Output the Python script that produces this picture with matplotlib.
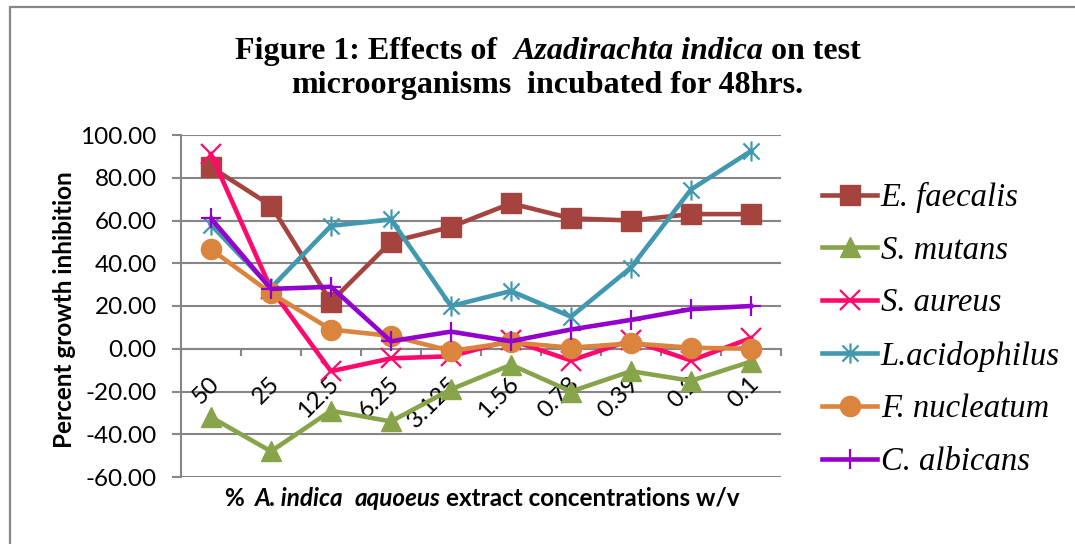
import matplotlib

matplotlib.use("Agg")
import matplotlib.pyplot as plt
from matplotlib.path import Path
from matplotlib.patches import Rectangle
import numpy as np

# data
concentrations = ["50", "25", "12.5", "6.25", "3.125", "1.56", "0.78", "0.39", "0.2", "0.1"]
e_faecalis = [85, 67, 22, 50, 57, 68, 61, 60, 63, 63]
s_mutans = [-32, -48, -29, -34, -19, -7.5, -20, -10.5, -15, -6]
s_aureus = [91, 28, -10.5, -4.5, -3.5, 4, -5.5, 4, -5.5, 5]
l_acidophilus = [58, 28.5, 57.5, 60.5, 20, 27, 15, 38, 74.5, 92.5]
f_nucleatum = [46.5, 26, 9, 6, -1, 3, 0.5, 2.5, 0.5, 0]
c_albicans = [61, 28, 29, 3.5, 8, 3.5, 9, 13.5, 18.5, 20]

W, H = 1075, 544
GRAY = "#868686"
SANS = "Lato"
SERIF = "Liberation Serif"

asterisk = Path(
    [(-1, -1), (1, 1), (-1, 1), (1, -1), (0, -1.25), (0, 1.25)],
    [Path.MOVETO, Path.LINETO, Path.MOVETO, Path.LINETO, Path.MOVETO, Path.LINETO],
)

series = [
    ("E. faecalis", e_faecalis, "#A5443F", "s"),
    ("S. mutans", s_mutans, "#88A44A", "^"),
    ("S. aureus", s_aureus, "#FF0A6C", "x"),
    ("L.acidophilus", l_acidophilus, "#4198AF", asterisk),
    ("F. nucleatum", f_nucleatum, "#DB843D", "o"),
    ("C. albicans", c_albicans, "#9400CC", "+"),
]


def rich_line(fig, pieces, x_center, y_base, size, family, gap_em=0.25):
    """Centre a line of bold text made of pieces with different styles."""
    renderer = fig.canvas.get_renderer()
    texts = []
    for text, style, spaces in pieces:
        t = fig.text(0, 1 - y_base / H, text, fontsize=size, family=family,
                     weight="bold", style=style, ha="left", va="baseline")
        texts.append((t, spaces))
    em = size * fig.dpi / 72
    widths = [t.get_window_extent(renderer).width for t, _ in texts]
    gaps = [spaces * gap_em * em for _, spaces in texts]
    total = sum(widths) + sum(gaps)
    x = x_center - total / 2
    for (t, _), w, g in zip(texts, widths, gaps):
        x += g
        t.set_x(x / W)
        x += w


fig = plt.figure(figsize=(W / 100, H / 100), dpi=100)
ax = fig.add_axes([181 / W, 1 - 477 / H, 600 / W, 342 / H])

x = np.arange(len(concentrations))
for label, values, color, marker in series:
    ax.plot(x, values, color=color, lw=3.3, marker=marker, ms=14.5,
            mew=1.6 if marker in ("x", "+") or marker is asterisk else 1,
            mfc="none" if marker is asterisk else color,
            mec=color, label=label, zorder=3, clip_on=False)

ax.set_xlim(-0.5, len(concentrations) - 0.5)
ax.set_ylim(-60, 100)
ax.set_yticks(np.arange(-60, 101, 20))
ax.yaxis.set_major_formatter(matplotlib.ticker.FormatStrFormatter("%.2f"))
ax.grid(axis="y", color=GRAY, lw=1.5, zorder=0)
ax.set_axisbelow(True)
for side in ("top", "right"):
    ax.spines[side].set_visible(False)
ax.spines["left"].set_color(GRAY)
ax.spines["left"].set_linewidth(1.5)
ax.spines["bottom"].set_position(("data", 0))
ax.spines["bottom"].set_color(GRAY)
ax.spines["bottom"].set_linewidth(1.5)
ax.tick_params(axis="y", direction="out", length=6.5, width=1.5, color=GRAY,
               pad=11, labelsize=17.5)
for lab in ax.get_yticklabels():
    lab.set_family(SANS)
ax.set_xticks(x)
ax.set_xticklabels([])
ax.tick_params(axis="x", which="major", length=0)
ax.set_xticks(np.arange(-0.5, len(concentrations)), minor=True)
ax.tick_params(axis="x", which="minor", direction="out", length=5, width=1.5,
               color=GRAY)

for i, lab in enumerate(concentrations):
    ax.text(i + 0.08, -15, lab, rotation=45, rotation_mode="anchor", ha="right",
            va="center", fontsize=17.5, family=SANS, zorder=2)

fig.text(65 / W, 1 - 310 / H, "Percent growth inhibition", rotation=90,
         ha="center", va="center", fontsize=17.5, family=SANS, weight="bold")

leg = ax.legend(loc="upper left", bbox_to_anchor=(822 / W, 1 - 182 / H),
                bbox_transform=fig.transFigure, frameon=False, borderpad=0,
                borderaxespad=0, handlelength=1.7, handletextpad=0.1,
                labelspacing=0.68, prop={"family": SERIF, "style": "italic",
                                         "size": 23.5})

rich_line(fig, [("Figure 1: Effects of", "normal", 0),
                ("Azadirachta indica", "italic", 2),
                ("on test", "normal", 1)], 548, 59, 23, SERIF)
rich_line(fig, [("microorganisms", "normal", 0),
                ("incubated for 48hrs.", "normal", 2)], 547, 93, 23, SERIF)
rich_line(fig, [("%", "normal", 0),
                ("A. indica", "italic", 2),
                ("aquoeus", "italic", 2),
                ("extract concentrations w/v", "normal", 1)], 482, 506, 17.5,
          SANS, gap_em=0.23)

fig.add_artist(Rectangle((10 / W, -0.1), 1.2, 1.1 - 7.5 / H,
                         transform=fig.transFigure, fill=False,
                         edgecolor="#878787", lw=1.6))

fig.savefig("out.png", dpi=100)
